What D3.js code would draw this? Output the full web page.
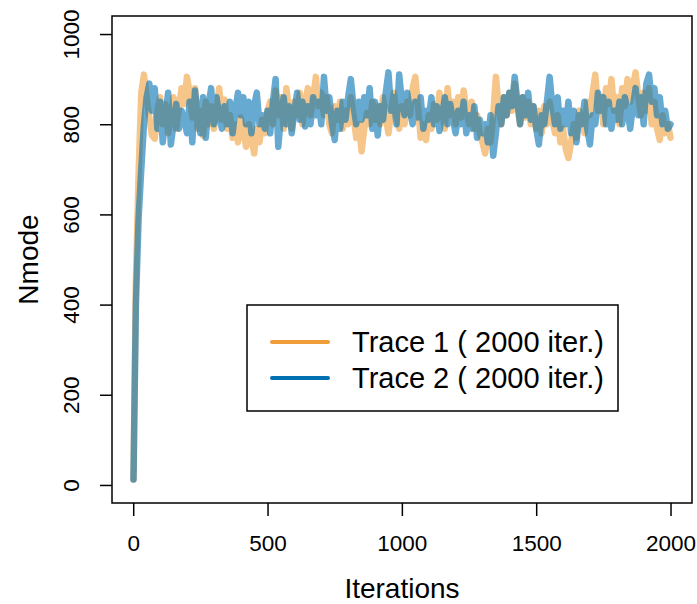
<!DOCTYPE html>
<html>
<head>
<meta charset="utf-8">
<script src="https://cdn.jsdelivr.net/npm/d3@7"></script>
<style>
  body { margin: 0; background: #fff; }
  text { font-family: "Liberation Sans", Arial, sans-serif; fill: #000; }
</style>
</head>
<body>
<script>
// iteration index of each stored draw (first draw, then every 10th)
var iterations = [1].concat(d3.range(10, 2001, 10));

var trace1 = [12,
  450, 690, 870, 910, 860, 815, 775, 768, 830, 860,
  800, 845, 780, 820, 860, 790, 835, 880, 845, 905,
  870, 815, 880, 790, 830, 775, 850, 800, 840, 790,
  830, 880, 810, 855, 790, 820, 770, 800, 760, 815,
  785, 750, 800, 770, 735, 790, 760, 810, 780, 830,
  850, 800, 875, 820, 860, 790, 880, 830, 790, 850,
  820, 870, 800, 845, 880, 820, 860, 905, 840, 870,
  820, 860, 800, 780, 840, 810, 850, 790, 830, 800,
  860, 820, 770, 800, 740, 790, 825, 800, 850, 810,
  840, 800, 860, 815, 780, 830, 870, 820, 790, 840,
  800, 850, 820, 880, 905, 840, 770, 800, 765, 820,
  790, 845, 810, 870, 830, 790, 880, 820, 850, 800,
  860, 815, 875, 830, 800, 850, 790, 820, 780, 760,
  735, 790, 760, 820, 905, 840, 800, 860, 820, 870,
  830, 890, 840, 800, 860, 815, 850, 800, 840, 790,
  830, 780, 840, 800, 850, 810, 780, 820, 760, 790,
  745, 725, 760, 800, 770, 830, 810, 780, 850, 820,
  870, 910, 830, 860, 800, 880, 845, 900, 830, 860,
  800, 880, 840, 900, 850, 885, 915, 860, 820, 870,
  830, 880, 800, 850, 790, 765, 820, 780, 800, 770];

var trace2 = [12,
  400, 590, 700, 800, 860, 890, 830, 880, 790, 850,
  760, 820, 870, 755, 800, 845, 790, 830, 810, 780,
  850, 760, 875, 820, 780, 860, 770, 840, 880, 800,
  860, 820, 790, 840, 800, 850, 780, 830, 870, 820,
  860, 800, 850, 780, 840, 870, 800, 820, 790, 830,
  780, 850, 900, 750, 820, 860, 800, 840, 780, 830,
  870, 810, 850, 795, 840, 800, 860, 820, 850, 800,
  905, 830, 860, 800, 765, 830, 790, 850, 810, 860,
  900, 840, 800, 850, 810, 860, 820, 880, 790, 850,
  775, 840, 810, 870, 915, 830, 860, 800, 910, 850,
  820, 870, 830, 800, 850, 815, 860, 790, 830, 810,
  860, 800, 840, 785, 820, 860, 800, 845, 810, 780,
  830, 800, 850, 780, 820, 790, 840, 770, 810, 780,
  800, 760, 820, 730, 780, 840, 800, 860, 820, 870,
  840, 905, 850, 800, 860, 820, 870, 810, 840, 790,
  755, 820, 800, 850, 905, 840, 800, 860, 790, 830,
  800, 850, 780, 830, 760, 820, 800, 850, 790, 755,
  820, 800, 870, 830, 860, 800, 850, 790, 830, 810,
  850, 800, 860, 830, 790, 840, 880, 820, 860, 800,
  890, 910, 850, 880, 820, 860, 800, 830, 790, 800];

var traceNames = ["Trace 1 ( 2000 iter.)", "Trace 2 ( 2000 iter.)"];
var traceColors = ["#EF9E3A", "#0072B2"];
var xTicks = [0, 500, 1000, 1500, 2000];
var yTicks = [0, 200, 400, 600, 800, 1000];

var svg = d3.select('body').append('svg')
  .attr('width', 697)
  .attr('height', 604);

var margin = { top: 16, right: 5, bottom: 101, left: 112 },
  width = +svg.attr("width") - margin.left - margin.right,
  height = +svg.attr("height") - margin.top - margin.bottom;

var g = svg.append("g").attr("transform", "translate(" + margin.left + "," + margin.top + ")");

// R style 4% padding around the data range
var xPad = 0.04 * (2000 - 1), yPad = 0.04 * 1000;
var x = d3.scaleLinear().domain([1 - xPad, 2000 + xPad]).range([0, width]);
var y = d3.scaleLinear().domain([0 - yPad, 1000 + yPad]).range([height, 0]);

var line = d3.line()
  .x(function (d, i) { return x(iterations[i]); })
  .y(function (d) { return y(d); });

[trace1, trace2].forEach(function (t, k) {
  g.append("path")
    .datum(t)
    .attr("fill", "none")
    .attr("stroke", traceColors[k])
    .attr("stroke-opacity", 0.6)
    .attr("stroke-width", 6.5)
    .attr("stroke-linejoin", "round")
    .attr("stroke-linecap", "round")
    .attr("d", line);
});

g.append("rect")
  .attr("width", width)
  .attr("height", height)
  .attr("fill", "none")
  .attr("stroke", "#000")
  .attr("stroke-width", 1.5);

var xAxis = g.append("g")
  .attr("transform", "translate(0," + height + ")")
  .call(d3.axisBottom(x).tickValues(xTicks).tickSize(13).tickPadding(19).tickFormat(d3.format("d")));
xAxis.select(".domain").remove();
xAxis.selectAll("line").attr("stroke-width", 1.5);
xAxis.selectAll("text").attr("font-size", 22.5).attr("font-family", null);

var yAxis = g.append("g")
  .call(d3.axisLeft(y).tickValues(yTicks).tickSize(12).tickFormat(d3.format("d")));
yAxis.select(".domain").remove();
yAxis.selectAll("line").attr("stroke-width", 1.5);
yAxis.selectAll("text")
  .attr("font-size", 22.5)
  .attr("font-family", null)
  .attr("x", null)
  .attr("dy", null)
  .attr("text-anchor", "middle")
  .attr("transform", "translate(-33,0) rotate(-90)");

svg.append("text")
  .attr("x", margin.left + width / 2)
  .attr("y", 598)
  .attr("text-anchor", "middle")
  .attr("font-size", 28)
  .text("Iterations");

svg.append("text")
  .attr("transform", "translate(38," + (margin.top + height / 2) + ") rotate(-90)")
  .attr("text-anchor", "middle")
  .attr("font-size", 28)
  .text("Nmode");

// legend
var legend = svg.append("g").attr("transform", "translate(247,305)");
legend.append("rect")
  .attr("width", 371)
  .attr("height", 106)
  .attr("fill", "#fff")
  .attr("stroke", "#000")
  .attr("stroke-width", 1.5);

var items = legend.selectAll("g.item")
  .data(traceNames)
  .enter().append("g")
  .attr("class", "item")
  .attr("transform", function (d, i) { return "translate(0," + (37 + i * 36) + ")"; });

items.append("line")
  .attr("x1", 25).attr("x2", 81)
  .attr("stroke", function (d, i) { return traceColors[i]; })
  .attr("stroke-width", 4)
  .attr("stroke-linecap", "round");

items.append("text")
  .attr("x", 105)
  .attr("dy", "0.35em")
  .attr("font-size", 29)
  .text(function (d) { return d; });
</script>
</body>
</html>
